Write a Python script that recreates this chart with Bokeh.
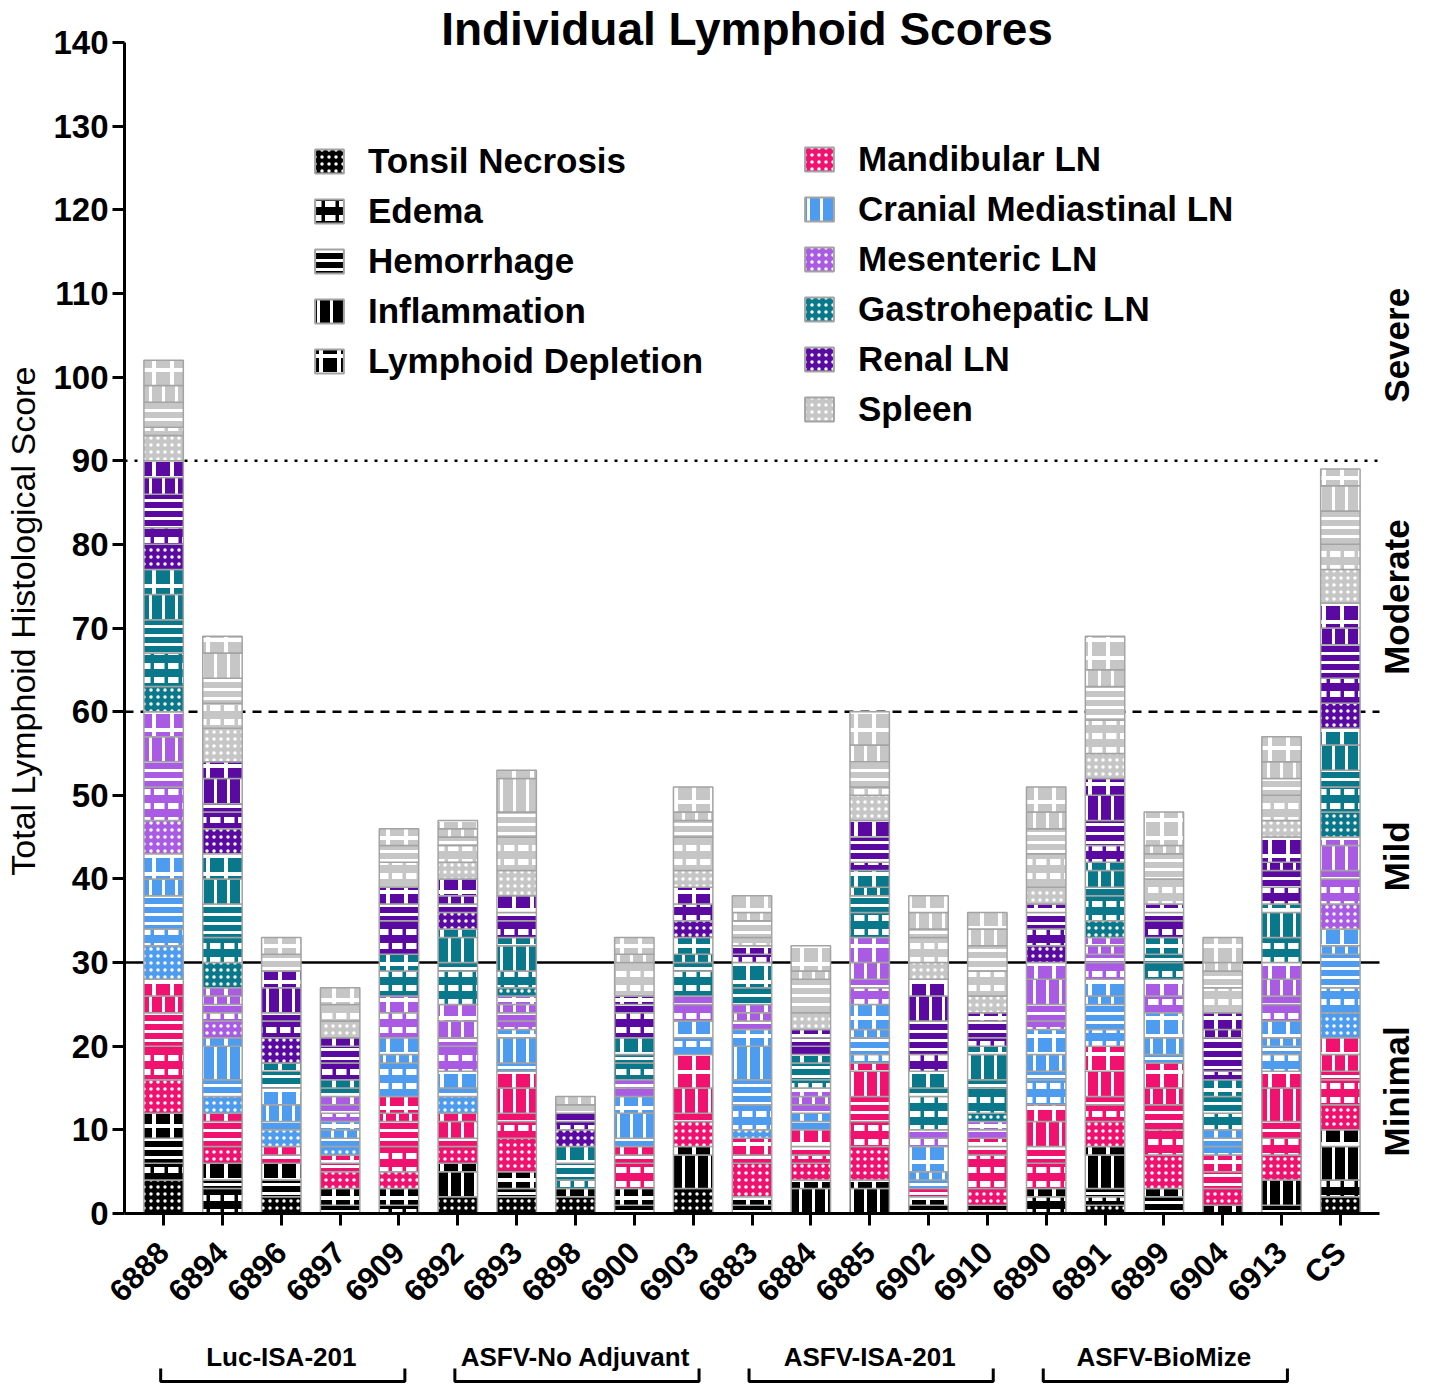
import math
from bokeh.plotting import figure
from bokeh.models import Range1d, FixedTicker, Label, Legend, LegendItem, ColumnDataSource
from bokeh.core.properties import value
from bokeh.layouts import column
from bokeh.embed import file_html
from bokeh.resources import INLINE

# ---------------- data ----------------
animals = ["6888", "6894", "6896", "6897", "6909", "6892", "6893", "6898", "6900",
           "6903", "6883", "6884", "6885", "6902", "6910", "6890", "6891", "6899",
           "6904", "6913", "CS"]

lesions = ["Tonsil Necrosis", "Edema", "Hemorrhage", "Inflammation", "Lymphoid Depletion"]
organ_names = ["Tonsil", "Mandibular LN", "Cranial Mediastinal LN", "Mesenteric LN",
               "Gastrohepatic LN", "Renal LN", "Spleen"]

# each entry: (necrosis, edema, hemorrhage, inflammation, lymphoid depletion)
tonsil = [(4, 2, 3, 0, 3), (0, 3, 1, 0, 2), (2, 0, 2, 0, 2), (0, 0, 1, 0, 2), (0, 1, 0, 0, 2),
          (2, 0, 0, 3, 1), (2, 0, 1, 0, 2), (2, 0, 0, 0, 1), (0, 0, 1, 0, 2), (3, 0, 0, 4, 1),
          (0, 0, 1, 0, 1), (0, 0, 0, 3, 1), (0, 0, 0, 3, 1), (0, 0, 1, 0, 1), (0, 0, 1, 0, 0),
          (0, 2, 0, 0, 1), (1, 1, 1, 4, 1), (0, 0, 2, 0, 1), (0, 0, 0, 0, 1), (0, 0, 1, 3, 0),
          (2, 2, 0, 4, 2)]
mandibular = [(4, 4, 4, 2, 2), (2, 0, 3, 0, 1), (0, 0, 1, 0, 1), (2, 0, 1, 0, 1), (2, 3, 3, 1, 2),
              (2, 0, 1, 2, 1), (4, 2, 1, 3, 2), (0, 0, 0, 0, 0), (0, 3, 1, 0, 1), (3, 0, 1, 3, 4),
              (4, 0, 1, 0, 2), (2, 1, 1, 0, 2), (4, 3, 3, 3, 1), (0, 0, 1, 0, 0), (2, 4, 1, 0, 1),
              (0, 3, 2, 3, 2), (3, 2, 1, 3, 3), (4, 3, 3, 2, 3), (2, 0, 2, 0, 2), (3, 2, 2, 4, 2),
              (3, 3, 1, 2, 2)]
cranial_med = [(4, 2, 4, 2, 3), (2, 0, 2, 4, 1), (2, 0, 1, 2, 2), (1, 0, 1, 1, 1), (0, 4, 0, 1, 2),
               (2, 0, 1, 0, 2), (0, 0, 1, 3, 1), (0, 0, 0, 0, 0), (0, 0, 1, 3, 2), (0, 2, 0, 0, 2),
               (1, 3, 3, 4, 2), (0, 0, 1, 0, 1), (0, 1, 2, 1, 3), (0, 0, 1, 1, 3), (0, 0, 0, 0, 0),
               (0, 3, 1, 2, 3), (0, 2, 3, 1, 2), (0, 0, 1, 2, 3), (0, 1, 1, 0, 1), (0, 2, 1, 1, 2),
               (3, 3, 4, 1, 2)]
mesenteric = [(4, 4, 3, 3, 3), (2, 1, 1, 1, 1), (0, 0, 0, 0, 0), (0, 1, 1, 0, 1), (0, 3, 0, 0, 2),
              (0, 3, 1, 2, 2), (0, 1, 1, 1, 1), (0, 0, 0, 0, 0), (0, 1, 1, 0, 0), (0, 2, 1, 0, 0),
              (0, 0, 1, 1, 1), (0, 0, 1, 1, 1), (0, 2, 1, 2, 3), (0, 1, 1, 0, 0), (0, 0, 1, 0, 1),
              (0, 1, 2, 3, 2), (0, 2, 1, 1, 1), (0, 2, 0, 0, 2), (0, 0, 0, 0, 0), (0, 2, 1, 2, 2),
              (3, 3, 1, 3, 1)]
gastrohepatic = [(3, 4, 4, 3, 3), (3, 3, 4, 3, 3), (0, 0, 2, 0, 1), (0, 0, 1, 0, 1), (0, 3, 0, 0, 2),
                 (0, 4, 1, 3, 1), (1, 2, 0, 3, 1), (0, 1, 2, 0, 2), (0, 2, 1, 0, 2), (0, 3, 1, 1, 2),
                 (0, 0, 2, 0, 3), (0, 1, 2, 0, 1), (0, 3, 2, 1, 2), (0, 4, 1, 0, 2), (1, 3, 1, 3, 1),
                 (0, 0, 0, 0, 0), (2, 3, 1, 2, 1), (0, 2, 1, 0, 2), (0, 2, 2, 0, 2), (0, 3, 0, 3, 1),
                 (3, 3, 2, 3, 2)]
renal = [(3, 2, 4, 2, 2), (3, 2, 1, 3, 2), (3, 2, 1, 3, 2), (0, 2, 2, 0, 1), (0, 4, 2, 0, 2),
         (2, 0, 1, 1, 2), (0, 2, 1, 0, 2), (2, 1, 1, 0, 0), (0, 3, 1, 0, 1), (2, 2, 0, 0, 2),
         (0, 1, 0, 0, 1), (0, 1, 1, 0, 1), (0, 1, 3, 0, 2), (0, 2, 4, 3, 2), (0, 1, 2, 0, 1),
         (2, 2, 2, 0, 1), (0, 2, 3, 3, 2), (0, 2, 1, 0, 1), (0, 1, 4, 1, 2), (0, 2, 2, 1, 3),
         (3, 3, 4, 2, 3)]
spleen = [(3, 1, 3, 2, 3), (4, 3, 3, 3, 2), (0, 0, 2, 0, 2), (2, 2, 0, 0, 2), (0, 3, 2, 0, 2),
          (2, 2, 1, 1, 1), (3, 4, 3, 4, 1), (0, 0, 1, 1, 0), (0, 4, 0, 1, 2), (2, 4, 2, 1, 3),
          (0, 1, 2, 1, 2), (2, 0, 4, 1, 3), (3, 1, 3, 2, 4), (2, 3, 1, 2, 2), (2, 3, 3, 2, 2),
          (2, 4, 3, 2, 3), (3, 4, 4, 2, 4), (0, 3, 3, 1, 4), (0, 3, 2, 1, 3), (2, 3, 2, 2, 3),
          (4, 3, 4, 3, 2)]

groups = ["Luc-ISA-201", "ASFV-No Adjuvant", "ASFV-ISA-201", "ASFV-BioMize"]
group_members = [["6888", "6894", "6896", "6897", "6909"],
                 ["6892", "6893", "6898", "6900", "6903"],
                 ["6883", "6884", "6885", "6902", "6910"],
                 ["6890", "6891", "6899", "6904", "6913"]]

y_ticks = list(range(0, 141, 10))
y_max = 140
thresholds = [30, 60, 90]
threshold_dash = ["solid", "9 7", "3 7"]
severity_labels = ["Minimal", "Mild", "Moderate", "Severe"]
severity_label_y = [14.6, 42.7, 73.7, 103.8]
title_text = "Individual Lymphoid Scores"
y_label = "Total Lymphoid Histological Score"

# ---------------- styles / geometry ----------------
FONT = "Liberation Sans"
organ_colors = ["#000000", "#f0126e", "#4d9cf0", "#a95ce3", "#08788a", "#5a0aa0", "#c6c6c6"]
lesion_hatch = ["dot", "horizontal_dash", "horizontal_line", "vertical_line", "cross"]
lesion_scale = [7, 14, 9, 13, 18]
lesion_weight = [2, 6, 3, 3, 4]
BORDER = "#a3a3a3"

n = len(animals)
x_lo, x_hi = -0.665, n - 1 + 0.665          # extent of the axes
AXIS_W, AXIS_H = 1255, 1171                  # pixels spanned by the axes
px_x = AXIS_W / (x_hi - x_lo)
px_y = AXIS_H / y_max
FRAME_W, FRAME_H = AXIS_W + 48, AXIS_H + 42  # extra room for title and side labels
x_end = x_lo + FRAME_W / px_x
y_end = FRAME_H / px_y

organs = [tonsil, mandibular, cranial_med, mesenteric, gastrohepatic, renal, spleen]

seg = dict(x=[], bottom=[], top=[], fill=[], hatch=[], hscale=[], hweight=[])
for i, _ in enumerate(animals):
    base = 0
    for organ, color in zip(organs, organ_colors):
        for k, v in enumerate(organ[i]):
            if v > 0:
                seg["x"].append(i)
                seg["bottom"].append(base)
                seg["top"].append(base + v)
                seg["fill"].append(color)
                seg["hatch"].append(lesion_hatch[k])
                seg["hscale"].append(lesion_scale[k])
                seg["hweight"].append(lesion_weight[k])
            base += v
source = ColumnDataSource(seg)

p = figure(x_range=Range1d(x_lo, x_end), y_range=Range1d(0, y_end),
           frame_width=FRAME_W, frame_height=FRAME_H,
           min_border_left=124, min_border_right=0, min_border_top=0, min_border_bottom=112,
           output_backend="svg", toolbar_location=None)
p.outline_line_color = None
p.grid.visible = False
p.background_fill_color = "white"

# threshold lines
for loc, dash in zip(thresholds, threshold_dash):
    p.segment(x0=[x_lo], x1=[x_hi], y0=[loc], y1=[loc], line_color="black",
              line_width=2.5, line_dash=dash)

p.vbar(x="x", bottom="bottom", top="top", width=0.67, source=source,
       fill_color="fill", line_color=BORDER, line_width=1.5,
       hatch_pattern="hatch", hatch_scale="hscale", hatch_weight="hweight",
       hatch_color="white")

# axes
p.yaxis.ticker = FixedTicker(ticks=y_ticks)
p.yaxis.bounds = (0, y_max)
p.yaxis.minor_tick_line_color = None
p.yaxis.axis_label = y_label + "\u00a0\u00a0\u00a0"
p.yaxis.axis_label_text_font = FONT
p.yaxis.axis_label_text_font_size = "34px"
p.yaxis.axis_label_text_font_style = "normal"
p.yaxis.axis_label_text_color = "black"
p.yaxis.axis_label_standoff = 8
p.xaxis.ticker = FixedTicker(ticks=list(range(n)))
p.xaxis.bounds = (x_lo, x_hi)
p.xaxis.major_label_overrides = {i: a for i, a in enumerate(animals)}
p.xaxis.major_label_orientation = math.pi / 4
for ax in (p.xaxis, p.yaxis):
    ax.axis_line_width = 3
    ax.axis_line_color = "black"
    ax.major_tick_line_width = 3
    ax.major_tick_line_color = "black"
    ax.major_tick_out = 12
    ax.major_tick_in = 0
    ax.major_label_text_font = FONT
    ax.major_label_text_font_style = "bold"
    ax.major_label_text_color = "black"
p.yaxis.major_label_text_font_size = "33px"
p.xaxis.major_label_text_font_size = "31px"
p.xaxis.major_label_standoff = 22
p.yaxis.major_label_standoff = 4

# title
p.add_layout(Label(x=(n - 1) / 2, y=y_max + 13.5 / px_y, x_offset=-5, text=title_text,
                   text_align="center", text_baseline="middle", text_font=FONT,
                   text_font_size="46px", text_font_style="bold", text_color="black"))

# severity labels on the right
for lab, yy in zip(severity_labels, severity_label_y):
    p.add_layout(Label(x=x_hi + 17 / px_x, y=yy, text=lab, angle=math.pi / 2,
                       text_align="center", text_baseline="middle", text_font=FONT,
                       text_font_size="35px", text_font_style="bold", text_color="black"))

# legends (swatch renderers have zero height at the baseline, hidden under the axis)
def swatch(fill, hatch, scale, weight):
    return p.vbar(x=[0], bottom=[0], top=[0], width=0.3, fill_color=fill, line_color=BORDER,
                  line_width=2, hatch_pattern=hatch, hatch_scale=scale, hatch_weight=weight,
                  hatch_color="white")

left_items = [LegendItem(label=lab, renderers=[swatch("black", lesion_hatch[k],
                                                      lesion_scale[k], lesion_weight[k])])
              for k, lab in enumerate(lesions)]
organ_swatch_hatch = ["dot", "vertical_line", "dot", "dot", "dot", "dot"]
right_items = []
for j, lab in enumerate(organ_names[1:]):
    h = organ_swatch_hatch[j]
    k = lesion_hatch.index(h)
    right_items.append(LegendItem(label=lab, renderers=[swatch(organ_colors[j + 1], h,
                                                               lesion_scale[k], lesion_weight[k])]))

for items, loc in ((left_items, (187, 832)), (right_items, (677, 784))):
    lg = Legend(items=items, location=loc, padding=0, margin=0, spacing=10,
                glyph_width=36, glyph_height=30, label_height=34, label_standoff=21,
                label_text_font=FONT, label_text_font_size="35px",
                label_text_font_style="bold", label_text_color="black",
                border_line_alpha=0, background_fill_alpha=0)
    p.add_layout(lg, "center")

# ---------------- group brackets ----------------
p2 = figure(x_range=p.x_range, y_range=Range1d(0, 1), frame_width=FRAME_W, frame_height=58,
            min_border_left=124, min_border_right=0, min_border_top=0, min_border_bottom=0,
            output_backend="svg", toolbar_location=None)
p2.axis.visible = False
p2.grid.visible = False
p2.outline_line_color = None

bx, by, tx = [], [], []
for members in group_members:
    idx = [animals.index(m) for m in members]
    a, b = min(idx) - 0.05, max(idx) + 0.1
    bx.append([a, a, b, b])
    by.append([0.26, 0.035, 0.035, 0.26])
    tx.append(sum(idx) / len(idx))
p2.multi_line(xs=bx, ys=by, line_color="black", line_width=3)
p2.text(x=tx, y=[0.45] * len(tx), text=groups, text_align="center", text_baseline="middle",
        text_font=value(FONT), text_font_size="26px", text_font_style="bold",
        text_color="black")

layout = column(p, p2, spacing=0)
open("out.html", "w").write(file_html(layout, INLINE))
